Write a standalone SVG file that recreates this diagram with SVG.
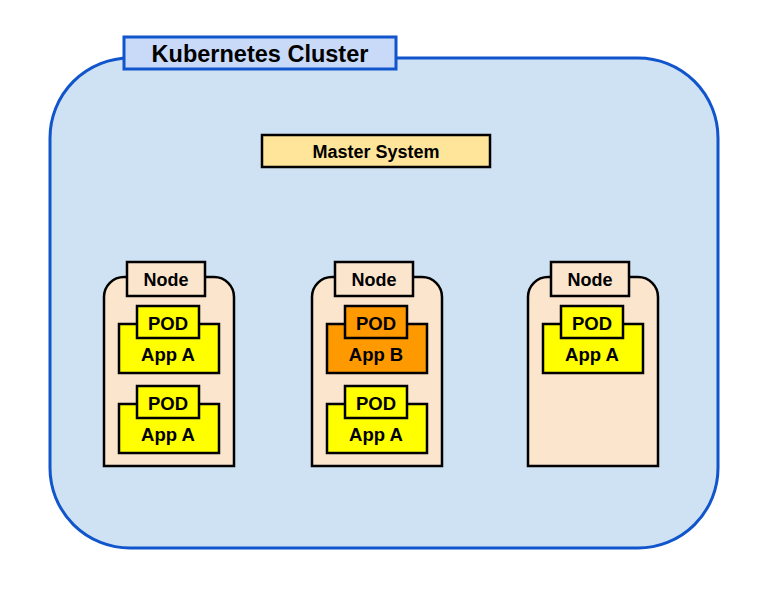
<svg xmlns="http://www.w3.org/2000/svg" width="768" height="598" viewBox="0 0 768 598">
<style>
text{font-family:"Liberation Sans",Arial,sans-serif;font-weight:bold;text-anchor:middle;dominant-baseline:central;fill:#000}
.body{fill:#fce5cd;stroke:#000;stroke-width:2.5}
.lbl{fill:#fce5cd;stroke:#000;stroke-width:2.5}
.app{fill:#ffff00;stroke:#000;stroke-width:2.5}
.appb{fill:#ff9900;stroke:#000;stroke-width:2.5}
.t16{font-size:18px}
.t17{font-size:18.5px}
</style>
<rect width="768" height="598" fill="#ffffff"/>
<g id="cluster">
<rect x="50" y="58" width="668" height="490" rx="80" ry="80" fill="#cfe2f3" stroke="#1155cc" stroke-width="3"/>
<rect x="124" y="37" width="272" height="32" fill="#c9daf8" stroke="#1155cc" stroke-width="3"/>
<text x="260" y="54" style="font-size:23.5px">Kubernetes Cluster</text>
</g>
<g id="master">
<rect x="262" y="135" width="228" height="32" fill="#ffe599" stroke="#000" stroke-width="2.5"/>
<text x="376" y="152" class="t16">Master System</text>
</g>
<g id="node1">
<path class="body" d="M104 466 V297 A20 20 0 0 1 124 277 H214 A20 20 0 0 1 234 297 V466 Z"/>
<rect class="lbl" x="127" y="262" width="78" height="34"/>
<text x="166" y="280" class="t16">Node</text>
<g id="n1p1">
<rect class="app" x="119" y="324" width="100" height="49"/>
<rect class="app" x="137" y="306" width="62" height="32"/>
<text x="168" y="323" class="t17">POD</text>
<text x="168" y="354" class="t17">App A</text>
</g>
<g id="n1p2">
<rect class="app" x="119" y="404" width="100" height="49"/>
<rect class="app" x="137" y="386" width="62" height="32"/>
<text x="168" y="403" class="t17">POD</text>
<text x="168" y="434" class="t17">App A</text>
</g>
</g>
<g id="node2">
<path class="body" d="M312 466 V297 A20 20 0 0 1 332 277 H422 A20 20 0 0 1 442 297 V466 Z"/>
<rect class="lbl" x="335" y="262" width="78" height="34"/>
<text x="374" y="280" class="t16">Node</text>
<g id="n2p1">
<rect class="appb" x="327" y="324" width="100" height="49"/>
<rect class="appb" x="345" y="306" width="62" height="32"/>
<text x="376" y="323" class="t17">POD</text>
<text x="376" y="354" class="t17">App B</text>
</g>
<g id="n2p2">
<rect class="app" x="327" y="404" width="100" height="49"/>
<rect class="app" x="345" y="386" width="62" height="32"/>
<text x="376" y="403" class="t17">POD</text>
<text x="376" y="434" class="t17">App A</text>
</g>
</g>
<g id="node3">
<path class="body" d="M528 466 V297 A20 20 0 0 1 548 277 H638 A20 20 0 0 1 658 297 V466 Z"/>
<rect class="lbl" x="551" y="262" width="78" height="34"/>
<text x="590" y="280" class="t16">Node</text>
<g id="n3p1">
<rect class="app" x="543" y="324" width="100" height="49"/>
<rect class="app" x="561" y="306" width="62" height="32"/>
<text x="592" y="323" class="t17">POD</text>
<text x="592" y="354" class="t17">App A</text>
</g>
</g>
<g id="connectors"></g>
</svg>
